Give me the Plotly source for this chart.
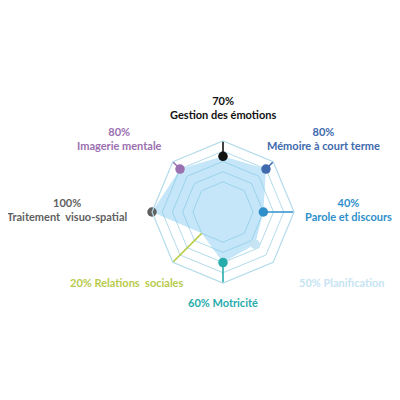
import plotly.graph_objects as go

# ---- data ----
categories = ["Gestion des émotions", "Mémoire à court terme", "Parole et discours",
              "Planification", "Motricité", "Relations  sociales",
              "Traitement  visuo-spatial", "Imagerie mentale"]
values = [70, 80, 40, 50, 60, 20, 100, 80]
colors = ["#111111", "#4169ad", "#2f8fcb", "#c6e4f3", "#27abab", "#b7cb4b", "#5f5f5f", "#9b70b0"]
grid_ticks = [20, 40, 60, 80, 100]

# ---- style ----
FONT = "Lato"
LEADER_END = 125
RMIN, RMAX = -39, 100
OFF = 8          # default page body margin
W = 400 - OFF    # figure size so that the page shows it entirely


def px(x):
    return (x - OFF) / W


def py(y):
    return 1 - (y - OFF) / W


fig = go.Figure()

# filled area
fig.add_trace(go.Scatterpolar(
    r=values + [values[0]], theta=categories + [categories[0]],
    mode="lines", fill="toself", fillcolor="rgba(125,200,240,0.45)",
    line=dict(width=0, color="rgba(0,0,0,0)"), hoverinfo="skip", showlegend=False))

# leader lines + markers
for cat, v, c in zip(categories, values, colors):
    start = v if cat != "Planification" else RMAX
    end = LEADER_END if cat != "Planification" else 142
    fig.add_trace(go.Scatterpolar(
        r=[start, end], theta=[cat, cat], mode="lines",
        line=dict(color=c, width=1.6), cliponaxis=False,
        hoverinfo="skip", showlegend=False))
    fig.add_trace(go.Scatterpolar(
        r=[v], theta=[cat], mode="markers",
        marker=dict(color=c, size=9.5), cliponaxis=False, showlegend=False))

# labels (page-pixel positions of text blocks)
label_pos = {
    "Gestion des émotions": (223, 108, 2),
    "Mémoire à court terme": (323, 138, 2),
    "Parole et discours": (348, 209, 2),
    "Planification": (342, 282, 1),
    "Motricité": (223, 302, 1),
    "Relations  sociales": (127, 282, 1),
    "Traitement  visuo-spatial": (67, 209, 2),
    "Imagerie mentale": (119, 138, 2),
}
for cat, v, c in zip(categories, values, colors):
    x, y, lines = label_pos[cat]
    txt = f"<b>{v}%<br>{cat}</b>" if lines == 2 else f"<b>{v}% {cat}</b>"
    fig.add_annotation(x=px(x), y=py(y), xref="paper", yref="paper",
                       text=txt, showarrow=False, align="center",
                       font=dict(family=FONT, size=11, color=c),
                       xanchor="center", yanchor="middle")

cx, cy, R = 223, 212, 71
fig.update_layout(
    width=W, height=W, margin=dict(l=0, r=0, t=0, b=0),
    paper_bgcolor="white", plot_bgcolor="white",
    polar=dict(
        domain=dict(x=[px(cx - R), px(cx + R)], y=[py(cy + R), py(cy - R)]),
        bgcolor="rgba(0,0,0,0)",
        gridshape="linear",
        radialaxis=dict(range=[RMIN, RMAX], tickvals=grid_ticks, showticklabels=False,
                        showline=False, ticks="", gridcolor="#b3dcea", gridwidth=1.2),
        angularaxis=dict(rotation=90, direction="clockwise", showgrid=False,
                         showticklabels=False, ticks="", linecolor="#b3dcea", linewidth=1.2),
    ),
)

fig.write_html("out.html")
